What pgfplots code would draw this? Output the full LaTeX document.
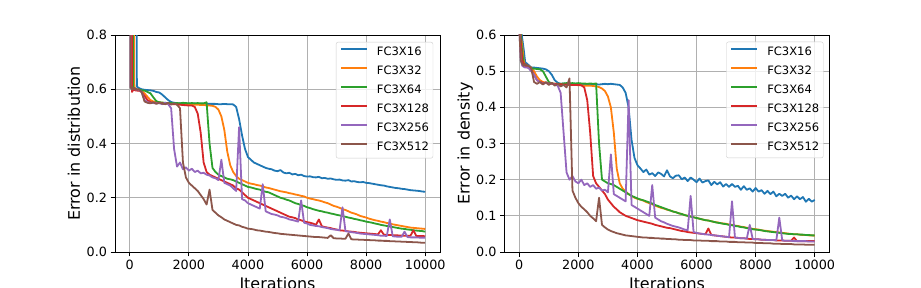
\documentclass[border=0pt]{standalone}
\usepackage{fontspec}
\setmainfont{DejaVu Sans}
\usepackage{pgfplots}
\usepackage{pgfplotstable}
\pgfplotsset{compat=1.18}
\definecolor{c16}{HTML}{1F77B4}
\definecolor{c32}{HTML}{FF7F0E}
\definecolor{c64}{HTML}{2CA02C}
\definecolor{c128}{HTML}{D62728}
\definecolor{c256}{HTML}{9467BD}
\definecolor{c512}{HTML}{8C564B}
\definecolor{gridgray}{HTML}{B0B0B0}

\pgfplotstableread{
x b o g r p n
0 1.5 1.5 1.5 1.5 1.5 1.5
15 1.5 1.5 1.5 1.5 1.5 1.5
25 1.5 1.5 1.5 1.5 0.610 0.605
60 1.5 1.5 1.5 1.5 0.600 0.610
75 1.5 1.5 1.5 0.590 0.605 0.600
100 1.5 1.5 1.5 0.600 0.600 0.607
115 1.5 1.5 0.600 0.595 0.603 0.600
140 1.5 1.5 0.605 0.600 0.600 0.605
155 1.5 0.610 0.600 0.598 0.600 0.600
200 1.5 0.600 0.600 0.595 0.600 0.603
225 1.5 0.598 0.600 0.598 0.598 0.600
240 0.610 0.600 0.598 0.595 0.600 0.598
300 0.605 0.598 0.600 0.595 0.598 0.600
400 0.600 0.595 0.596 0.590 0.590 0.590
500 0.598 0.585 0.595 0.575 0.560 0.555
600 0.597 0.572 0.590 0.560 0.552 0.550
700 0.596 0.560 0.585 0.553 0.550 0.548
800 0.594 0.555 0.570 0.550 0.549 0.552
900 0.590 0.553 0.556 0.550 0.548 0.546
1000 0.588 0.552 0.552 0.549 0.549 0.551
1100 0.580 0.550 0.551 0.548 0.545 0.547
1200 0.570 0.549 0.550 0.547 0.550 0.545
1300 0.560 0.548 0.549 0.546 0.545 0.550
1400 0.553 0.547 0.549 0.545 0.530 0.544
1500 0.550 0.546 0.548 0.545 0.380 0.548
1600 0.549 0.545 0.549 0.544 0.315 0.543
1700 0.548 0.545 0.548 0.543 0.330 0.530
1800 0.548 0.544 0.550 0.542 0.305 0.330
1900 0.548 0.544 0.549 0.541 0.312 0.275
2000 0.547 0.544 0.548 0.540 0.300 0.255
2100 0.547 0.543 0.549 0.540 0.307 0.245
2200 0.547 0.543 0.548 0.535 0.295 0.235
2300 0.546 0.543 0.549 0.510 0.300 0.225
2400 0.546 0.542 0.548 0.440 0.290 0.210
2500 0.546 0.542 0.548 0.330 0.292 0.195
2600 0.546 0.541 0.552 0.295 0.285 0.175
2700 0.546 0.540 0.400 0.285 0.282 0.230
2800 0.546 0.539 0.310 0.280 0.275 0.155
2900 0.546 0.535 0.295 0.275 0.272 0.145
3000 0.545 0.525 0.285 0.270 0.265 0.135
3100 0.545 0.500 0.280 0.265 0.340 0.128
3200 0.546 0.450 0.275 0.260 0.255 0.120
3300 0.545 0.370 0.270 0.255 0.250 0.115
3400 0.545 0.320 0.268 0.250 0.245 0.110
3500 0.544 0.295 0.265 0.245 0.235 0.105
3600 0.535 0.280 0.260 0.235 0.225 0.100
3700 0.490 0.270 0.255 0.230 0.460 0.098
3800 0.430 0.265 0.250 0.220 0.195 0.093
3900 0.380 0.260 0.245 0.210 0.190 0.090
4000 0.350 0.255 0.240 0.200 0.180 0.086
4100 0.340 0.252 0.238 0.195 0.175 0.085
4200 0.330 0.250 0.235 0.190 0.170 0.083
4300 0.325 0.247 0.232 0.185 0.165 0.080
4400 0.320 0.245 0.230 0.180 0.160 0.079
4500 0.315 0.242 0.225 0.175 0.250 0.077
4600 0.310 0.238 0.222 0.170 0.150 0.075
4700 0.307 0.236 0.220 0.165 0.145 0.074
4800 0.305 0.233 0.215 0.160 0.140 0.072
4900 0.300 0.230 0.210 0.155 0.138 0.070
5000 0.298 0.227 0.205 0.150 0.135 0.069
5100 0.302 0.224 0.200 0.145 0.130 0.067
5200 0.293 0.222 0.197 0.140 0.128 0.066
5300 0.290 0.220 0.193 0.135 0.125 0.065
5400 0.292 0.217 0.190 0.130 0.120 0.064
5500 0.286 0.215 0.185 0.128 0.118 0.063
5600 0.288 0.212 0.180 0.125 0.115 0.062
5700 0.283 0.210 0.177 0.120 0.112 0.061
5800 0.285 0.207 0.173 0.117 0.190 0.060
5900 0.280 0.205 0.170 0.113 0.108 0.059
6000 0.278 0.200 0.165 0.110 0.105 0.058
6100 0.279 0.197 0.162 0.108 0.100 0.057
6200 0.276 0.195 0.158 0.105 0.098 0.056
6300 0.275 0.192 0.155 0.100 0.096 0.055
6400 0.277 0.190 0.152 0.120 0.095 0.055
6500 0.272 0.187 0.150 0.095 0.092 0.054
6600 0.273 0.183 0.147 0.092 0.090 0.053
6700 0.270 0.180 0.145 0.090 0.088 0.052
6800 0.271 0.175 0.142 0.088 0.085 0.062
6900 0.268 0.170 0.140 0.085 0.083 0.051
7000 0.266 0.167 0.137 0.083 0.082 0.050
7100 0.267 0.163 0.135 0.080 0.080 0.050
7200 0.264 0.158 0.132 0.079 0.165 0.049
7300 0.263 0.155 0.130 0.078 0.077 0.049
7400 0.265 0.150 0.127 0.076 0.075 0.068
7500 0.260 0.145 0.125 0.075 0.073 0.047
7600 0.261 0.142 0.122 0.074 0.072 0.046
7700 0.258 0.138 0.120 0.072 0.070 0.046
7800 0.257 0.133 0.117 0.071 0.068 0.045
7900 0.258 0.130 0.115 0.070 0.067 0.045
8000 0.255 0.127 0.112 0.069 0.066 0.044
8100 0.254 0.123 0.110 0.068 0.065 0.044
8200 0.252 0.120 0.108 0.067 0.064 0.043
8300 0.250 0.117 0.105 0.066 0.063 0.043
8400 0.248 0.115 0.103 0.065 0.062 0.042
8500 0.246 0.112 0.100 0.080 0.060 0.042
8600 0.245 0.110 0.098 0.064 0.060 0.041
8700 0.242 0.107 0.096 0.063 0.059 0.041
8800 0.240 0.105 0.094 0.063 0.120 0.040
8900 0.238 0.102 0.092 0.062 0.058 0.040
9000 0.236 0.100 0.090 0.062 0.057 0.039
9100 0.235 0.098 0.088 0.061 0.056 0.039
9200 0.233 0.096 0.086 0.061 0.056 0.038
9300 0.232 0.094 0.085 0.060 0.075 0.038
9400 0.230 0.092 0.083 0.060 0.055 0.037
9500 0.228 0.090 0.082 0.060 0.054 0.037
9600 0.227 0.089 0.080 0.080 0.054 0.036
9700 0.226 0.088 0.079 0.059 0.054 0.036
9800 0.225 0.087 0.078 0.059 0.053 0.035
9900 0.223 0.086 0.077 0.059 0.053 0.034
10000 0.222 0.085 0.075 0.058 0.053 0.034
}\tabL

\pgfplotstableread{
x b o g r p n
0 0.650 0.650 0.650 0.650 0.620 0.620
50 0.620 0.600 0.600 0.580 0.530 0.530
100 0.590 0.570 0.550 0.530 0.515 0.520
150 0.560 0.530 0.520 0.520 0.512 0.515
200 0.525 0.515 0.515 0.512 0.510 0.520
300 0.518 0.515 0.510 0.510 0.510 0.515
400 0.510 0.510 0.508 0.505 0.500 0.510
500 0.510 0.500 0.507 0.490 0.490 0.470
600 0.509 0.485 0.506 0.475 0.475 0.465
700 0.508 0.475 0.505 0.470 0.470 0.470
800 0.507 0.470 0.500 0.468 0.465 0.463
900 0.505 0.468 0.485 0.467 0.468 0.470
1000 0.500 0.467 0.470 0.466 0.465 0.462
1100 0.490 0.466 0.466 0.465 0.466 0.468
1200 0.475 0.465 0.465 0.465 0.463 0.460
1300 0.468 0.465 0.465 0.464 0.460 0.465
1400 0.465 0.464 0.465 0.464 0.440 0.458
1500 0.466 0.463 0.466 0.463 0.330 0.462
1600 0.465 0.463 0.467 0.463 0.220 0.455
1700 0.464 0.462 0.466 0.462 0.200 0.480
1800 0.465 0.462 0.467 0.462 0.210 0.170
1900 0.465 0.462 0.466 0.462 0.195 0.150
2000 0.464 0.461 0.467 0.462 0.190 0.135
2100 0.465 0.461 0.466 0.461 0.200 0.125
2200 0.463 0.460 0.466 0.455 0.185 0.118
2300 0.464 0.460 0.465 0.420 0.190 0.110
2400 0.463 0.460 0.466 0.330 0.180 0.100
2500 0.464 0.459 0.465 0.210 0.185 0.093
2600 0.464 0.458 0.466 0.190 0.175 0.085
2700 0.463 0.456 0.300 0.180 0.178 0.150
2800 0.464 0.452 0.200 0.170 0.170 0.075
2900 0.465 0.445 0.195 0.160 0.172 0.068
3000 0.464 0.430 0.190 0.145 0.165 0.062
3100 0.465 0.400 0.188 0.135 0.270 0.058
3200 0.464 0.330 0.185 0.125 0.160 0.055
3300 0.463 0.230 0.180 0.118 0.155 0.052
3400 0.462 0.190 0.175 0.110 0.150 0.050
3500 0.455 0.175 0.170 0.105 0.145 0.048
3600 0.440 0.168 0.165 0.100 0.140 0.046
3700 0.400 0.160 0.160 0.097 0.420 0.045
3800 0.310 0.155 0.155 0.094 0.130 0.044
3900 0.260 0.150 0.152 0.091 0.125 0.043
4000 0.240 0.147 0.148 0.088 0.120 0.042
4100 0.231 0.145 0.145 0.086 0.115 0.041
4200 0.221 0.142 0.143 0.084 0.110 0.040
4300 0.228 0.138 0.140 0.082 0.105 0.040
4400 0.214 0.135 0.137 0.080 0.100 0.039
4500 0.218 0.132 0.134 0.078 0.185 0.039
4600 0.210 0.128 0.130 0.075 0.095 0.038
4700 0.220 0.125 0.127 0.073 0.090 0.038
4800 0.216 0.122 0.124 0.071 0.085 0.037
4900 0.209 0.120 0.121 0.069 0.082 0.037
5000 0.226 0.117 0.118 0.067 0.078 0.036
5100 0.209 0.115 0.115 0.066 0.075 0.036
5200 0.204 0.112 0.112 0.064 0.072 0.035
5300 0.211 0.110 0.110 0.062 0.070 0.035
5400 0.212 0.107 0.107 0.060 0.068 0.034
5500 0.201 0.105 0.105 0.058 0.065 0.034
5600 0.206 0.102 0.102 0.057 0.062 0.033
5700 0.196 0.100 0.100 0.055 0.060 0.033
5800 0.206 0.098 0.098 0.054 0.155 0.033
5900 0.200 0.096 0.096 0.053 0.055 0.032
6000 0.193 0.094 0.094 0.052 0.053 0.032
6100 0.203 0.092 0.092 0.051 0.051 0.032
6200 0.192 0.090 0.090 0.050 0.050 0.031
6300 0.196 0.088 0.088 0.049 0.049 0.031
6400 0.198 0.087 0.087 0.065 0.048 0.031
6500 0.185 0.085 0.085 0.047 0.047 0.030
6600 0.194 0.083 0.083 0.046 0.046 0.030
6700 0.187 0.082 0.081 0.045 0.045 0.030
6800 0.193 0.080 0.080 0.044 0.044 0.029
6900 0.181 0.079 0.078 0.043 0.043 0.029
7000 0.188 0.078 0.077 0.042 0.042 0.029
7100 0.180 0.076 0.075 0.041 0.041 0.028
7200 0.188 0.075 0.074 0.040 0.140 0.028
7300 0.180 0.073 0.072 0.040 0.040 0.028
7400 0.183 0.072 0.071 0.039 0.039 0.027
7500 0.172 0.070 0.069 0.038 0.038 0.027
7600 0.182 0.069 0.068 0.038 0.038 0.027
7700 0.172 0.067 0.066 0.037 0.037 0.026
7800 0.176 0.066 0.065 0.036 0.075 0.026
7900 0.167 0.064 0.063 0.036 0.036 0.026
8000 0.177 0.063 0.062 0.035 0.035 0.025
8100 0.167 0.062 0.061 0.035 0.035 0.025
8200 0.171 0.060 0.060 0.034 0.034 0.025
8300 0.161 0.059 0.058 0.034 0.034 0.024
8400 0.169 0.058 0.057 0.033 0.033 0.024
8500 0.160 0.057 0.056 0.033 0.033 0.024
8600 0.167 0.056 0.055 0.033 0.033 0.023
8700 0.154 0.055 0.054 0.032 0.032 0.023
8800 0.161 0.054 0.053 0.032 0.095 0.023
8900 0.155 0.053 0.052 0.032 0.032 0.022
9000 0.161 0.052 0.051 0.031 0.031 0.022
9100 0.150 0.051 0.050 0.031 0.031 0.022
9200 0.156 0.050 0.050 0.031 0.031 0.022
9300 0.146 0.049 0.049 0.040 0.030 0.021
9400 0.154 0.049 0.049 0.030 0.030 0.021
9500 0.146 0.048 0.048 0.030 0.030 0.021
9600 0.152 0.047 0.048 0.030 0.030 0.021
9700 0.139 0.047 0.047 0.030 0.030 0.020
9800 0.147 0.046 0.047 0.030 0.029 0.020
9900 0.139 0.046 0.046 0.030 0.029 0.020
10000 0.144 0.045 0.046 0.030 0.029 0.020
}\tabR

\pgfplotsset{
  myaxis/.style={
    scale only axis, width=325bp, height=217bp,
    xmin=-500, xmax=10500,
    xtick={0,2000,4000,6000,8000,10000},
    scaled x ticks=false, scaled y ticks=false,
    xtick pos=bottom, ytick pos=left,
    grid=major,
    major grid style={color=gridgray, line width=0.8bp},
    axis line style={line width=0.8bp},
    tick style={black, line width=0.8bp},
    tick align=outside, major tick length=4.5bp,
    tick label style={font=\fontsize{12.8}{12.8}\selectfont},
    label style={font=\fontsize{16}{16}\selectfont},
    /pgf/number format/assume math mode=true,
    xticklabel style={/pgf/number format/1000 sep={}},
    yticklabel style={/pgf/number format/.cd, fixed, fixed zerofill, precision=1},
    xlabel={Iterations},
    xlabel style={at={(axis description cs:0.5,0)}, anchor=north, inner sep=0pt, yshift=-25bp},
    ylabel style={at={(axis description cs:0,0.5)}, anchor=base, inner sep=0pt, yshift=35bp},
    every axis plot/.append style={line width=1.8bp, line join=round},
    legend cell align=left,
    legend image code/.code={\draw[##1] (0bp,3.5bp) -- (26bp,3.5bp);},
    legend style={
      anchor=north east,
      draw=black!20, fill=white, fill opacity=0.8, text opacity=1,
      rounded corners=2bp,
      font=\fontsize{11.6}{11.6}\selectfont,
      inner xsep=4bp, inner ysep=5bp,
      row sep=8bp,
      nodes={inner sep=0bp, text height=8.5bp, text depth=2.5bp},
      /tikz/every odd column/.append style={column sep=9bp},
    },
  }
}

\begin{document}
\begin{tikzpicture}
\path[use as bounding box] (0,0) rectangle (921bp,288bp);
\begin{axis}[myaxis, at={(115bp,36bp)}, anchor=south west,
  ymin=0, ymax=0.8, ytick={0,0.2,0.4,0.6,0.8},
  ylabel={Error in distribution},
  legend style={at={(axis description cs:0.979,0.968)}}]
\addplot[c16] table[x=x,y=b]{\tabL};
\addplot[c32] table[x=x,y=o]{\tabL};
\addplot[c64] table[x=x,y=g]{\tabL};
\addplot[c128] table[x=x,y=r]{\tabL};
\addplot[c256] table[x=x,y=p]{\tabL};
\addplot[c512] table[x=x,y=n]{\tabL};
\legend{FC3X16,FC3X32,FC3X64,FC3X128,FC3X256,FC3X512}
\end{axis}
\begin{axis}[myaxis, at={(504.5bp,36bp)}, anchor=south west,
  ymin=0, ymax=0.6, ytick={0,0.1,0.2,0.3,0.4,0.5,0.6},
  ylabel={Error in density},
  legend style={at={(axis description cs:0.9815,0.969)}}]
\addplot[c16] table[x=x,y=b]{\tabR};
\addplot[c32] table[x=x,y=o]{\tabR};
\addplot[c64] table[x=x,y=g]{\tabR};
\addplot[c128] table[x=x,y=r]{\tabR};
\addplot[c256] table[x=x,y=p]{\tabR};
\addplot[c512] table[x=x,y=n]{\tabR};
\legend{FC3X16,FC3X32,FC3X64,FC3X128,FC3X256,FC3X512}
\end{axis}
\end{tikzpicture}
\end{document}
